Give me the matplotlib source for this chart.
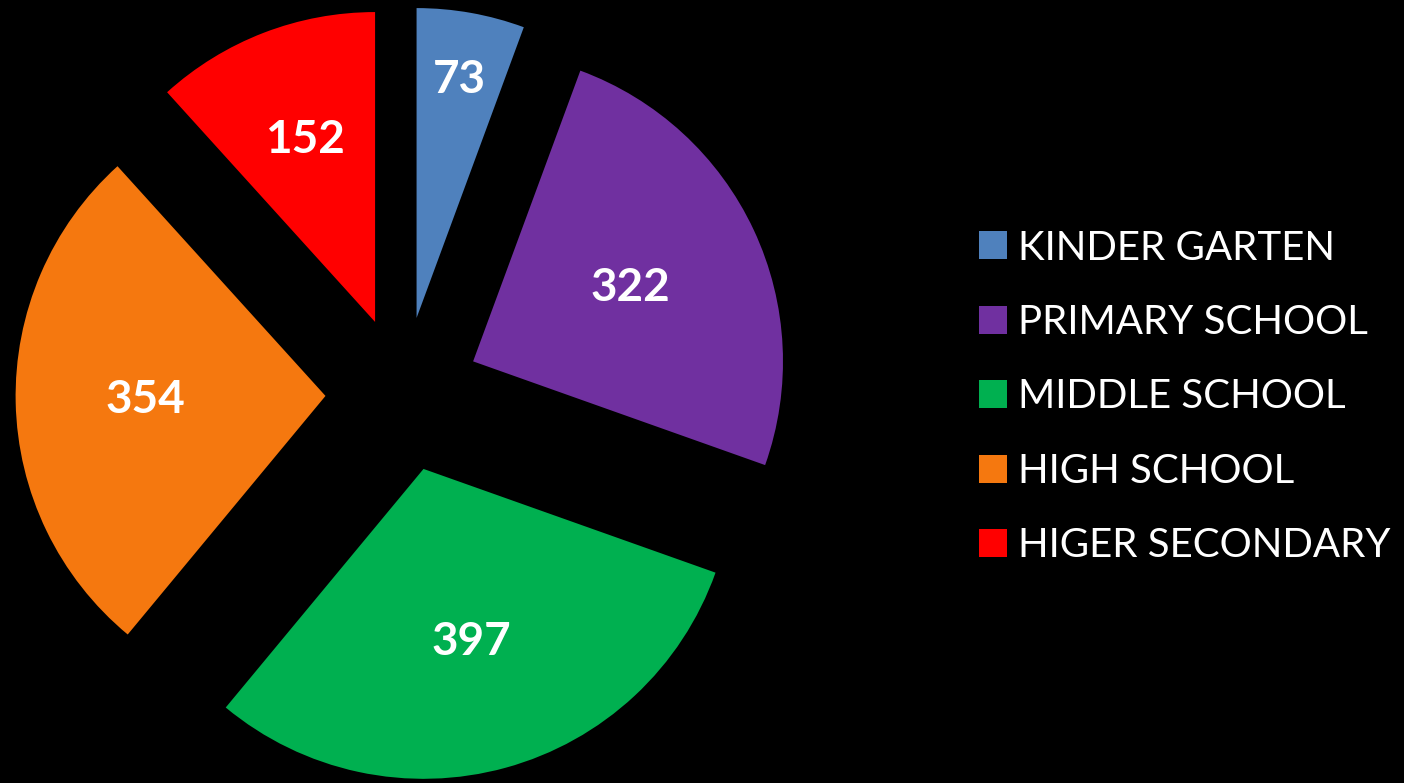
import numpy as np
import matplotlib.pyplot as plt
from matplotlib.lines import Line2D

labels = ['KINDER GARTEN', 'PRIMARY SCHOOL', 'MIDDLE SCHOOL', 'HIGH SCHOOL', 'HIGER SECONDARY']
values = [73, 322, 397, 354, 152]
colors = ['#4F81BD', '#7030A0', '#00B050', '#F5780F', '#FF0000']
label_dist = [0.78, 0.56, 0.58, 0.58, 0.63]   # where each number sits along the wedge

plt.rcParams['font.family'] = ['Lato', 'DejaVu Sans']

fig = plt.figure(figsize=(14.04, 7.83), dpi=100, facecolor='black')
# pie radius 1 -> ~310 px, centre at ~(403, 394) px
ax = fig.add_axes([0.0, -0.018, 0.574, 1.029])
ax.set_facecolor('black')

wedges, _ = ax.pie(values, colors=colors, startangle=90, counterclock=False,
                   explode=[0.25] * len(values), radius=1.0,
                   wedgeprops=dict(linewidth=0))
ax.set_xlim(-1.3, 1.3)
ax.set_ylim(-1.3, 1.3)
ax.axis('off')

# value labels inside each wedge
for w, v, d in zip(wedges, values, label_dist):
    ang = np.deg2rad((w.theta1 + w.theta2) / 2)
    cx, cy = w.center
    ax.text(cx + d * np.cos(ang), cy + d * np.sin(ang), str(v),
            ha='center', va='center', color='white', fontsize=33, fontweight='bold')

handles = [Line2D([], [], marker='s', linestyle='', markersize=19.5,
                  markerfacecolor=c, markeredgewidth=0) for c in colors]
fig.legend(handles, labels, loc='center left', bbox_to_anchor=(0.667, 0.493),
           frameon=False, labelcolor='white', fontsize=29,
           handletextpad=0.13, labelspacing=0.93, handlelength=1.0)

fig.savefig('out.png', dpi=100, facecolor='black')
